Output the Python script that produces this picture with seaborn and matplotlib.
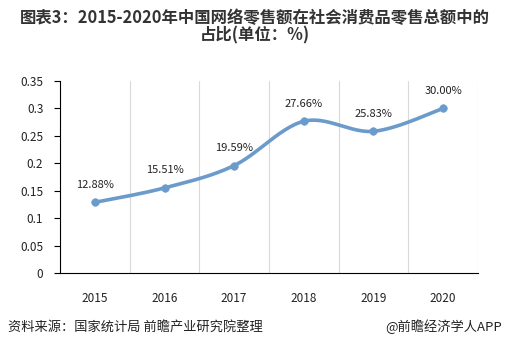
import numpy as np
import pandas as pd
import matplotlib
matplotlib.use("Agg")
import matplotlib.pyplot as plt
import seaborn as sns

years = ["2015", "2016", "2017", "2018", "2019", "2020"]
shares = [0.1288, 0.1551, 0.1959, 0.2766, 0.2583, 0.3000]
labels = ["12.88%", "15.51%", "19.59%", "27.66%", "25.83%", "30.00%"]
yticks = [0, 0.05, 0.1, 0.15, 0.2, 0.25, 0.3, 0.35]
ytick_labels = ["0", "0.05", "0.1", "0.15", "0.2", "0.25", "0.3", "0.35"]

sns.set_theme(style="white")
plt.rcParams['font.family'] = ['Noto Sans CJK SC', 'DejaVu Sans']

df = pd.DataFrame({"year": years, "share": shares})
df["x"] = np.arange(len(years))

fig = plt.figure(figsize=(5.09, 3.47), dpi=100)
ax = fig.add_axes([60/509, 1 - 273/347, (478-60)/509, (273-81)/347])

color = "#6A9BCB"

# smoothed (Catmull-Rom) rendering of the line, like Excel's smoothed line
xs = df["x"].to_numpy(float)
ys = df["share"].to_numpy(float)
px = np.concatenate([[xs[0]], xs, [xs[-1]]])
py = np.concatenate([[ys[0]], ys, [ys[-1]]])
cx, cy = [], []
t = np.linspace(0, 1, 30)
for i in range(1, len(px) - 2):
    p0, p1, p2, p3 = np.array([px[i-1], py[i-1]]), np.array([px[i], py[i]]), np.array([px[i+1], py[i+1]]), np.array([px[i+2], py[i+2]])
    b1 = p1 + (p2 - p0) / 6
    b2 = p2 - (p3 - p1) / 6
    pts = ((1-t)**3)[:, None]*p1 + (3*(1-t)**2*t)[:, None]*b1 + (3*(1-t)*t**2)[:, None]*b2 + (t**3)[:, None]*p2
    cx.extend(pts[:, 0]); cy.extend(pts[:, 1])
ax.plot(cx, cy, color=color, lw=2.6, solid_capstyle="round", zorder=3)
sns.scatterplot(data=df, x="x", y="share", ax=ax, color=color, s=30,
                edgecolor=color, zorder=4, legend=False)

for xi, yi, lab in zip(xs, ys, labels):
    ax.annotate(lab, (xi, yi), xytext=(0, 9), textcoords="offset points",
                ha="center", va="bottom", fontsize=8, color="#222222")

ax.set_xlim(-0.5, len(years) - 0.5)
ax.set_ylim(0, 0.35)
ax.set_yticks(yticks)
ax.set_yticklabels(ytick_labels)
ax.set_xticks(xs)
ax.set_xticklabels(years)
ax.set_xlabel("")
ax.set_ylabel("")

for b in np.arange(0.5, len(years), 1.0):
    ax.axvline(b, color="#D9D9D9", lw=0.8, zorder=1)

for s in ["top", "right"]:
    ax.spines[s].set_visible(False)
for s in ["left", "bottom"]:
    ax.spines[s].set_color("#000000")
    ax.spines[s].set_linewidth(0.8)

ax.tick_params(axis="y", which="both", left=True, length=4, width=0.8,
               color="#000000", labelsize=8.5, labelcolor="#222222", pad=8)
ax.tick_params(axis="x", which="both", bottom=False, labelsize=8.5,
               labelcolor="#222222", pad=8)

fig.text(0.5, 1 - 27/347, "图表3：2015-2020年中国网络零售额在社会消费品零售总额中的\n占比(单位：%)",
         ha="center", va="center", fontsize=11.8, fontweight="bold",
         color="#333333", linespacing=0.95)
fig.text(8/509, 1 - 327/347, "资料来源：国家统计局 前瞻产业研究院整理",
         ha="left", va="center", fontsize=9.5, color="#222222")
fig.text(502/509, 1 - 327/347, "@前瞻经济学人APP",
         ha="right", va="center", fontsize=9.5, color="#222222")

fig.savefig("out.png", dpi=100)
